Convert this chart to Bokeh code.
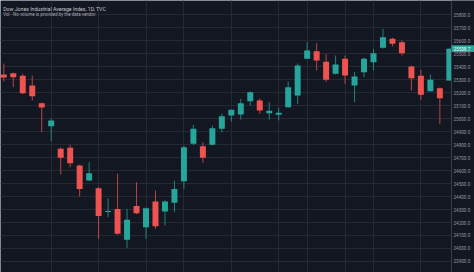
from bokeh.plotting import figure
from bokeh.models import FixedTicker, Label, Grid, Range1d, ColumnDataSource
from bokeh.core.properties import value
from bokeh.embed import file_html
from bokeh.resources import INLINE

# Daily OHLC values (Dow Jones Industrial Average, 1D)
opens = [25340, 25350, 25330, 25255, 25119, 24942, 24768, 24775, 24639, 24523,
         24464, 24281, 24305, 24067, 24328, 24164, 24362, 24285, 24352, 24518,
         24806, 24788, 24798, 24922, 25024, 25032, 25134, 25140, 25042, 25030,
         25088, 25178, 25461, 25519, 25438, 25345, 25461, 25255, 25358, 25435,
         25546, 25615, 25589, 25402, 25330, 25211, 25234, 25294]
highs = [25424, 25355, 25345, 25332, 25124, 25001, 24778, 24798, 24647, 24664,
         24477, 24387, 24575, 24305, 24510, 24316, 24446, 24370, 24523, 24793,
         24952, 24818, 24947, 25037, 25070, 25153, 25211, 25155, 25127, 25083,
         25286, 25425, 25589, 25581, 25499, 25486, 25486, 25358, 25471, 25538,
         25692, 25623, 25602, 25409, 25376, 25340, 25240, 25545]
lows = [25286, 25242, 25190, 25140, 24895, 24826, 24570, 24626, 24400, 24520,
        24074, 24241, 24107, 24005, 24265, 24074, 24151, 24177, 24279, 24459,
        24798, 24660, 24793, 24895, 24978, 24993, 25101, 25037, 24993, 24986,
        25086, 25114, 25459, 25371, 25281, 25340, 25268, 25127, 25319, 25371,
        25540, 25556, 25486, 25217, 25145, 25209, 24960, 25290]
closes = [25317, 25319, 25196, 25173, 25086, 24986, 24698, 24657, 24459, 24580,
          24251, 24288, 24113, 24221, 24271, 24310, 24171, 24362, 24459, 24780,
          24922, 24698, 24926, 25019, 25068, 25119, 25204, 25063, 25060, 25045,
          25242, 25409, 25525, 25448, 25299, 25417, 25332, 25325, 25461, 25504,
          25627, 25576, 25504, 25311, 25184, 25299, 25157, 25538.7]

price_ticks = [23900, 24000, 24100, 24200, 24300, 24400, 24500, 24600, 24700,
               24800, 24900, 25000, 25100, 25200, 25300, 25400, 25500, 25600,
               25700, 25800]
time_grid_bars = [5, 10, 15, 19, 24, 29, 32, 36, 39, 44]

title_text = "Dow Jones Industrial Average Index, 1D, TVC"
volume_text = "Vol · No volume is provided by the data vendor."

UP = "#26a69a"
DOWN = "#ef5350"
BG = "#131722"
GRID = "#252934"
FONT = "Roboto"

# chart area ends at bar position AXIS_X, the price scale occupies the rest
X0, AXIS_X, X1 = -0.35, 47.23, 49.655
Y0, Y1 = 23815, 25910

idx = list(range(len(opens)))
colors = [UP if c >= o else DOWN for o, c in zip(opens, closes)]
src = ColumnDataSource(dict(
    x=idx,
    top=[max(o, c) for o, c in zip(opens, closes)],
    bottom=[min(o, c) for o, c in zip(opens, closes)],
    high=highs, low=lows, color=colors,
))

p = figure(width=474, height=272,
           x_range=Range1d(X0, X1), y_range=Range1d(Y0, Y1),
           x_axis_location=None, y_axis_location=None,
           toolbar_location=None, output_backend="svg",
           min_border=0)
p.background_fill_color = BG
p.border_fill_color = BG
p.outline_line_color = None

for g in p.xgrid + p.ygrid:
    g.visible = False
p.add_layout(Grid(dimension=0, ticker=FixedTicker(ticks=time_grid_bars),
                  grid_line_color=GRID, grid_line_width=1))
p.add_layout(Grid(dimension=1, ticker=FixedTicker(ticks=price_ticks),
                  grid_line_color=GRID, grid_line_width=1))

# candles
p.segment(x0="x", x1="x", y0="low", y1="high", color="color", line_width=1,
          line_alpha=0.75, source=src)
p.vbar(x="x", width=0.63, top="top", bottom="bottom", fill_color="color",
       line_color=None, source=src)

# price scale panel on the right
p.quad(left=[AXIS_X], right=[X1], bottom=[Y0], top=[Y1],
       fill_color=BG, line_color=None)
p.segment(x0=[AXIS_X], x1=[AXIS_X], y0=[Y0], y1=[Y1],
          line_color="#3a3e4a", line_width=1)
p.text(x=[AXIS_X] * len(price_ticks), y=price_ticks,
       text=["%.1f" % t for t in price_ticks], x_offset=2,
       text_font=value(FONT), text_font_size="4.6px", text_color="#9598a1",
       text_baseline="middle", text_align="left")

# last price marker
last = closes[-1]
half_h = 3.4 / 0.1298
p.quad(left=[AXIS_X], right=[X1], bottom=[last - half_h], top=[last + half_h],
       fill_color=UP, line_color=None)
p.text(x=[AXIS_X], y=[last], text=["%.1f" % last], x_offset=2,
       text_font=value(FONT), text_font_size="4.6px", text_color="#ffffff",
       text_baseline="middle", text_align="left")

p.add_layout(Label(x=2.7, y=264, x_units="screen", y_units="screen",
                   text=title_text, text_font=FONT, text_font_size="5.2px",
                   text_color="#c3c6ce", text_baseline="middle"))
p.add_layout(Label(x=2.7, y=257.8, x_units="screen", y_units="screen",
                   text=volume_text, text_font=FONT, text_font_size="4.5px",
                   text_color="#a3a6af", text_baseline="middle"))

open("out.html", "w").write(file_html(p, INLINE))
